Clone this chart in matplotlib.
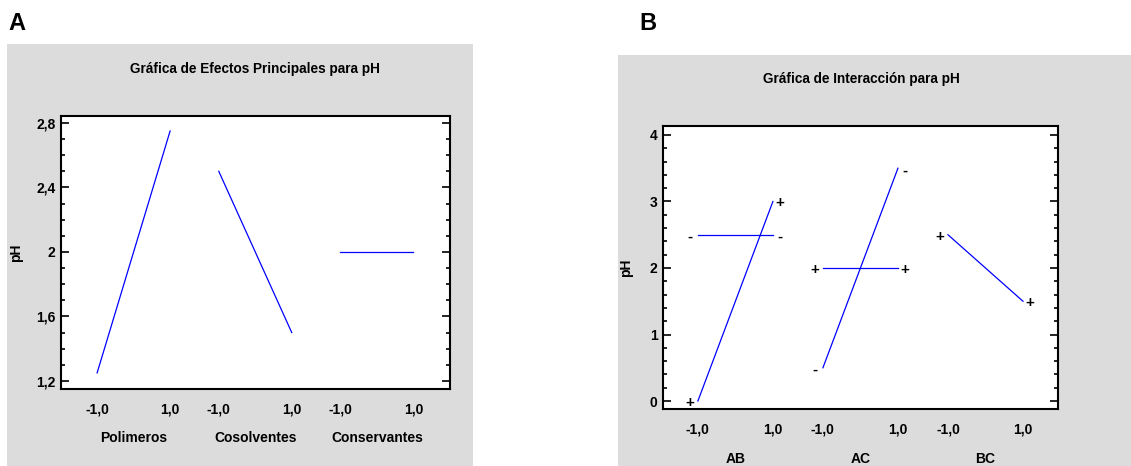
import matplotlib
matplotlib.use("Agg")
import matplotlib.pyplot as plt
from matplotlib.patches import Rectangle
from matplotlib.ticker import MultipleLocator, FixedLocator
import matplotlib.transforms as mtransforms

plt.rcParams['font.family'] = ['Liberation Sans', 'DejaVu Sans']
plt.rcParams['font.weight'] = 'bold'

# ---- data ----
levels = [-1, 1]
level_labels = ['-1,0', '1,0']

factors_A = ['Polimeros', 'Cosolventes', 'Conservantes']
ph_low_A = [1.25, 2.5, 2.0]
ph_high_A = [2.75, 1.5, 2.0]

pairs_B = ['AB', 'AC', 'BC']
# each interaction: list of (sign, value at -1, value at +1)
inter_B = {
    'AB': [('+', 0.0, 3.0), ('-', 2.5, 2.5)],
    'AC': [('-', 0.5, 3.5), ('+', 2.0, 2.0)],
    'BC': [('+', 2.5, 1.5)],
}

yticks_A = [1.2, 1.6, 2.0, 2.4, 2.8]
yticks_B = [0, 1, 2, 3, 4]

W, H = 1131, 466
fig = plt.figure(figsize=(W / 100, H / 100), dpi=100)
fig.patch.set_facecolor('white')

gray = '#DCDCDC'
fig.patches.append(Rectangle((7 / W, 0), (473 - 7) / W, 1 - 44 / H,
                             transform=fig.transFigure, facecolor=gray,
                             edgecolor='none', zorder=-10))
fig.patches.append(Rectangle((618 / W, 0), (W - 618) / W, 1 - 55 / H,
                             transform=fig.transFigure, facecolor=gray,
                             edgecolor='none', zorder=-10))

GROUP = 10 / 3.0  # slot width per factor in x units


def fmt(v):
    return f"{v:g}".replace('.', ',')


def style_axes(ax, yticks, minor, ylim, xlim):
    ax.set_facecolor('white')
    for s in ax.spines.values():
        s.set_linewidth(1.5)
        s.set_color('black')
    ax.set_ylim(*ylim)
    ax.set_xlim(*xlim)
    ax.yaxis.set_major_locator(FixedLocator(yticks))
    ax.set_yticklabels([fmt(v) for v in yticks])
    ax.yaxis.set_minor_locator(MultipleLocator(minor))
    ax.tick_params(axis='y', which='both', direction='in', left=True,
                   right=True, width=1.2, labelsize=10, pad=4)
    ax.tick_params(axis='y', which='major', length=5.5)
    ax.tick_params(axis='y', which='minor', length=2.8)
    ax.tick_params(axis='x', which='both', length=0, labelsize=10, pad=10)
    ax.set_ylabel('pH', fontsize=10, fontweight='bold')


def px_rect(l, t, r, b):
    return [l / W, 1 - b / H, (r - l) / W, (b - t) / H]


# ---- Panel A ----
axA = fig.add_axes(px_rect(61, 116, 450, 389))
xticksA, xlabA = [], []
for i, name in enumerate(factors_A):
    x0 = i * GROUP
    xs = [x0 + (l + 1) for l in levels]
    axA.plot(xs, [ph_low_A[i], ph_high_A[i]], color='#0000FF', lw=0.9)
    xticksA += xs
    xlabA += level_labels
    axA.text(x0 + 1, -0.178, name, transform=mtransforms.blended_transform_factory(axA.transData, axA.transAxes),
             ha='center', va='center', fontsize=10, fontweight='bold')
style_axes(axA, yticks_A, 0.1, (1.15, 2.843), (-0.99, 9.67))
axA.set_xticks(xticksA)
axA.set_xticklabels(xlabA)
axA.yaxis.set_label_coords(-0.098, 0.5)
fig.text(255 / W, 1 - 69 / H, 'Gráfica de Efectos Principales para pH',
         ha='center', va='center', fontsize=9.8, fontweight='bold')
fig.text(8 / W, 1 - 24 / H, 'A', ha='left', va='center', fontsize=17, fontweight='bold')

# ---- Panel B ----
axB = fig.add_axes(px_rect(663, 126, 1058, 409))
xticksB, xlabB = [], []
for i, name in enumerate(pairs_B):
    x0 = i * GROUP
    xs = [x0 + (l + 1) for l in levels]
    for sign, lo, hi in inter_B[name]:
        axB.plot(xs, [lo, hi], color='#0000FF', lw=0.9)
        axB.annotate(sign, (xs[0], lo), xytext=(-8, -2), textcoords='offset pixels',
                     ha='center', va='center', fontsize=11, fontweight='bold')
        axB.annotate(sign, (xs[1], hi), xytext=(7, -2), textcoords='offset pixels',
                     ha='center', va='center', fontsize=11, fontweight='bold')
    xticksB += xs
    xlabB += level_labels
    axB.text(x0 + 1, -0.175, name, transform=mtransforms.blended_transform_factory(axB.transData, axB.transAxes),
             ha='center', va='center', fontsize=10, fontweight='bold')
style_axes(axB, yticks_B, 0.2, (-0.12, 4.135), (-0.93, 9.6))
axB.set_xticks(xticksB)
axB.set_xticklabels(xlabB)
axB.yaxis.set_label_coords(-0.076, 0.5)
fig.text(861 / W, 1 - 79 / H, 'Gráfica de Interacción para pH',
         ha='center', va='center', fontsize=9.8, fontweight='bold')
fig.text(639 / W, 1 - 24 / H, 'B', ha='left', va='center', fontsize=17, fontweight='bold')

fig.savefig('out.png', dpi=100, facecolor='white')
